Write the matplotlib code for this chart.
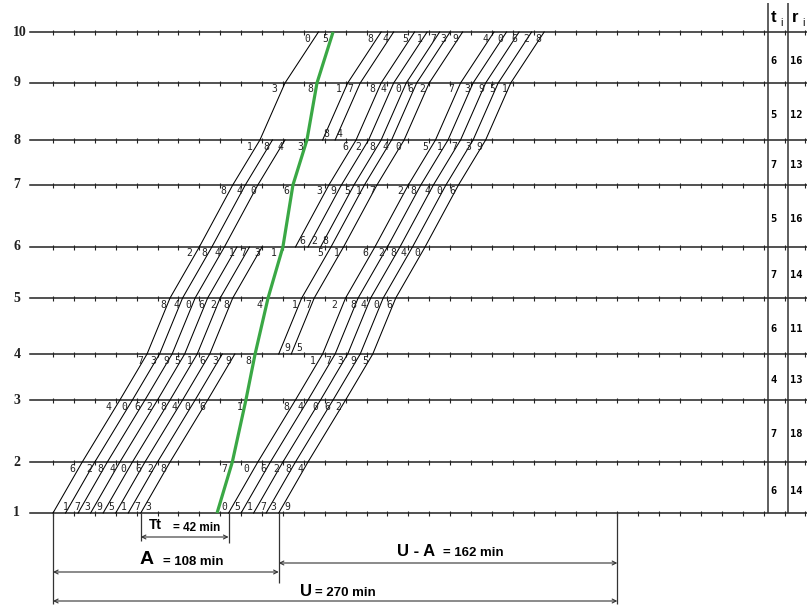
import numpy as np
import matplotlib
matplotlib.use("Agg")
from matplotlib import pyplot as plt

# table on the right, rows from station 1-2 up to 9-10
t_i = [6, 7, 4, 6, 7, 5, 7, 5, 6]
r_i = [14, 18, 13, 11, 14, 16, 13, 12, 16]
stations = [1, 2, 3, 4, 5, 6, 7, 8, 9, 10]

# slanted lines: time at station 1 (reference), first and last station
line_base = [0, 6, 12, 18, 24, 30, 36, 42, 30, 36, 46, 52, 58, 63, 69, 84, 90, 96, 102, 108]
line_from = [1, 1, 1, 1, 1, 1, 1, 1, 8, 8, 6, 6, 6, 4, 4, 1, 1, 1, 1, 1]
line_to = [10, 8, 8, 6, 6, 6, 4, 4, 10, 10, 10, 10, 10, 10, 10, 10, 10, 10, 10, 10]

# green line, time at each station
green_t = [78.5, 85.8, 92.3, 96.7, 102.9, 110.0, 114.8, 121.5, 126.3, 134.0]

# digit marks at each station (text, time)
lab1 = "17395173051739"
lab1_t = [6.2, 11.5, 16.3, 22, 27.8, 34, 40.2, 45.5, 81.8, 88, 94.3, 100.5, 105.3, 112]
lab2 = "62840628706284"
lab2_t = [9.1, 17.2, 22.5, 28.2, 33.5, 40.7, 46.4, 52.6, 81.8, 92.3, 100.5, 106.7, 112.4, 118.2]
lab3 = "40628406184062"
lab3_t = [26.3, 34, 40.2, 45.9, 52.6, 57.9, 64.1, 71.3, 89.5, 111.5, 118.2, 125.4, 131.1, 136.4]
lab4 = "73951639817395"
lab4_t = [41.6, 47.8, 54.1, 59.3, 65.6, 71.3, 77.5, 83.7, 93.3, 124.4, 131.6, 137.3, 143.5, 149.3]
lab5 = "84062841728406"
lab5_t = [52.6, 59.3, 64.6, 70.8, 76.6, 82.8, 99, 115.8, 122, 134.4, 143.5, 148.3, 154.5, 160.8]
lab6 = "28417315162840"
lab6_t = [65.1, 72.2, 78.5, 85.6, 90.9, 97.6, 105.7, 127.8, 135.9, 149.3, 156.9, 162.7, 167.9, 174.2]
lab7 = "84063951728406"
lab7_t = [81.3, 89, 95.7, 111.5, 127.3, 134, 140.7, 146.4, 152.6, 166, 172.2, 179, 184.7, 190.9]
lab8 = "18436284051739"
lab8_t = [94.3, 101.9, 108.6, 118.2, 139.7, 145.9, 152.6, 158.9, 165, 178, 185.2, 191.9, 198.6, 203.8]
lab9 = "38178406273951"
lab9_t = [105.7, 123, 136.8, 142.1, 152.6, 157.9, 165, 170.8, 176.6, 190.4, 198.1, 204.8, 210, 216.3]
lab10 = "05845173940628"
lab10_t = [121.5, 130.1, 151.7, 158.9, 168.4, 175.6, 181.8, 186.6, 192.3, 206.7, 213.9, 220.6, 226.3, 232.1]
# marks above the line where new lines start
start4 = "95"
start4_t = [112, 118]
start6 = "628"
start6_t = [119.5, 125, 130.5]
start8 = "84"
start8_t = [131, 137]

Tt_start = 42
Tt = 42
A = 108
U = 270

# layout
px_min = 2.09
x_left = -53 / px_min
x_right = (807 - 53) / px_min
level_y = np.array([513, 462, 400, 354, 298, 247, 185, 140, 83, 32])

fig = plt.figure(figsize=(8.07, 6.06), dpi=100)
ax = fig.add_axes([0, 0, 1, 1])
ax.set_xlim(x_left, x_right)
ax.set_ylim(606, 0)
ax.axis('off')

# station lines with ticks every 10 min
ticks = np.arange(0, 361, 10)
for s, y in zip(stations, level_y):
    ax.plot([-11, x_right], [y, y], color='#222222', lw=1.1)
    ax.vlines(ticks, y - 2.5, y + 2.5, color='#222222', lw=0.8)
    ax.text(-19, y, str(s), fontsize=10, fontweight='bold', family='Liberation Serif',
            ha='left', va='center', color='#222222')

cum_r = np.concatenate([[0], np.cumsum(r_i)])
for b, s, e in zip(line_base, line_from, line_to):
    lv = np.arange(s, e + 1)
    ax.plot(b + cum_r[lv - 1], level_y[lv - 1], color='black', lw=0.75)

ax.plot(green_t, level_y, color='#3aa845', lw=2.3, solid_capstyle='butt')

below = [(lab1, lab1_t), (lab2, lab2_t), (lab3, lab3_t), (lab4, lab4_t), (lab5, lab5_t),
         (lab6, lab6_t), (lab7, lab7_t), (lab8, lab8_t), (lab9, lab9_t), (lab10, lab10_t)]
for k, (txt, tt) in enumerate(below):
    dy = -6 if k == 0 else 6.5
    for ch, t in zip(txt, tt):
        ax.text(t, level_y[k] + dy, ch, fontsize=7, family='DejaVu Sans Mono',
                ha='center', va='center', color='#222222')

for lvl, txt, tt in [(4, start4, start4_t), (6, start6, start6_t), (8, start8, start8_t)]:
    for ch, t in zip(txt, tt):
        ax.text(t, level_y[lvl - 1] - 6, ch, fontsize=7, family='DejaVu Sans Mono',
                ha='center', va='center', color='#222222')

# table t_i / r_i
col1 = (768 - 53) / px_min
col2 = (788 - 53) / px_min
ax.vlines([col1, col2], 3, level_y[0], color='#333333', lw=1.1)
ax.text(col1 + 2.6, 18, 't', fontsize=12, fontweight='bold', family='Liberation Sans',
        ha='center', va='center')
ax.text(col1 + 6.5, 23, 'i', fontsize=7.5, family='Liberation Sans', ha='center', va='center')
ax.text(col2 + 3.4, 18, 'r', fontsize=12, fontweight='bold', family='Liberation Sans',
        ha='center', va='center')
ax.text(col2 + 7.4, 23, 'i', fontsize=7.5, family='Liberation Sans', ha='center', va='center')
for k in range(len(t_i)):
    ym = (level_y[k] + level_y[k + 1]) / 2 + 3
    ax.text(col1 + 1, ym, str(t_i[k]), fontsize=7.5, fontweight='bold',
            family='DejaVu Sans Mono', ha='left', va='center')
    ax.text(col2 + 1, ym, str(r_i[k]), fontsize=7.5, fontweight='bold',
            family='DejaVu Sans Mono', ha='left', va='center')

# dimension lines
y1 = level_y[0]
ax.vlines([0, U], y1, 604, color='#333333', lw=0.9)
ax.vlines(Tt_start, y1, 541, color='#333333', lw=0.9)
ax.vlines(Tt_start + Tt, y1, 543, color='#333333', lw=0.9)
ax.vlines(A, y1, 583, color='#333333', lw=0.9)

arr = dict(arrowstyle='<->', lw=0.8, color='#333333', mutation_scale=7, shrinkA=0, shrinkB=0)
ax.annotate('', xy=(Tt_start, 537), xytext=(Tt_start + Tt, 537), arrowprops=arr)
ax.annotate('', xy=(0, 572), xytext=(A, 572), arrowprops=arr)
ax.annotate('', xy=(A, 563), xytext=(U, 563), arrowprops=arr)
ax.annotate('', xy=(0, 601), xytext=(U, 601), arrowprops=arr)

ax.text(48.8, 525, 'Tt', fontsize=10, fontweight='bold', family='Liberation Sans',
        ha='center', va='center')
ax.text(57.5, 528, '= 42 min', fontsize=8.5, fontweight='bold', family='Liberation Sans',
        ha='left', va='center')
ax.text(45, 560, 'A', fontsize=14, fontweight='bold', family='Liberation Sans',
        ha='center', va='center')
ax.text(52.5, 562, '= 108 min', fontsize=9.5, fontweight='bold', family='Liberation Sans',
        ha='left', va='center')
ax.text(164.5, 552, 'U - A', fontsize=12, fontweight='bold', family='Liberation Sans',
        ha='left', va='center')
ax.text(186.5, 553, '= 162 min', fontsize=9.5, fontweight='bold', family='Liberation Sans',
        ha='left', va='center')
ax.text(118, 592, 'U', fontsize=12, fontweight='bold', family='Liberation Sans',
        ha='left', va='center')
ax.text(125.5, 593, '= 270 min', fontsize=9.5, fontweight='bold', family='Liberation Sans',
        ha='left', va='center')

fig.savefig('out.png', dpi=100, facecolor='white')
